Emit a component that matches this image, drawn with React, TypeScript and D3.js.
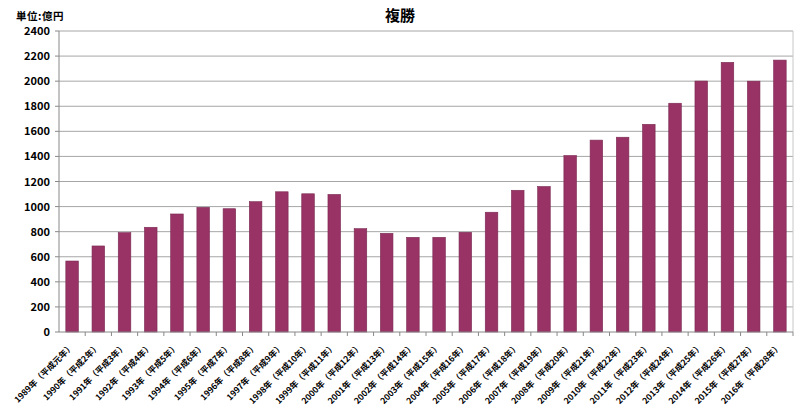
import React from "react";
import * as d3 from "d3";

const years = [
  "1989年（平成元年）", "1990年（平成2年）", "1991年（平成3年）", "1992年（平成4年）", "1993年（平成5年）",
  "1994年（平成6年）", "1995年（平成7年）", "1996年（平成8年）", "1997年（平成9年）", "1998年（平成10年）",
  "1999年（平成11年）", "2000年（平成12年）", "2001年（平成13年）", "2002年（平成14年）", "2003年（平成15年）",
  "2004年（平成16年）", "2005年（平成17年）", "2006年（平成18年）", "2007年（平成19年）", "2008年（平成20年）",
  "2009年（平成21年）", "2010年（平成22年）", "2011年（平成23年）", "2012年（平成24年）", "2013年（平成25年）",
  "2014年（平成26年）", "2015年（平成27年）", "2016年（平成28年）",
];
const values = [
  566, 686, 792, 835, 941, 994, 983, 1039, 1118, 1102,
  1097, 824, 787, 755, 755, 795, 955, 1130, 1160, 1407,
  1530, 1553, 1656, 1824, 2001, 2150, 2000, 2168,
];
const yTicks = [0, 200, 400, 600, 800, 1000, 1200, 1400, 1600, 1800, 2000, 2200, 2400];

const W = 800, H = 411;
const M = { left: 59, right: 793, top: 31, bottom: 332 };
const FONT = "'Noto Sans CJK JP', 'Noto Sans', sans-serif";

export default function App() {
  const x = d3.scaleBand<string>().domain(years).range([M.left, M.right]).paddingInner(0.52).paddingOuter(0.26);
  const xb = d3.scaleBand<string>().domain(years).range([M.left, M.right]);
  const y = d3.scaleLinear().domain([0, 2400]).range([M.bottom, M.top]);
  return (
    <svg width={W} height={H} style={{ position: "absolute", left: 0, top: 0, background: "#fff" }} fontFamily={FONT}>
      <text x={400} y={21} textAnchor="middle" fontSize={15} fontWeight="bold">複勝</text>
      <text x={16} y={20} fontSize={10.5} fontWeight="bold" letterSpacing={0.5}>単位:億円</text>
      {yTicks.map((t) => (
        <g key={t}>
          {t > 0 && <line x1={M.left} x2={M.right} y1={y(t)} y2={y(t)} stroke="#a6a6a6" strokeWidth={1} />}
          <line x1={M.left - 4} x2={M.left} y1={y(t)} y2={y(t)} stroke="#888" />
          <text x={50} y={y(t) + 4} textAnchor="end" fontSize={11} fontWeight="bold">{t}</text>
        </g>
      ))}
      <line x1={M.right} x2={M.right} y1={M.top} y2={M.bottom} stroke="#c8c8c8" />
      {years.map((c, i) => (
        <rect key={c} x={x(c)} y={y(values[i])} width={x.bandwidth()} height={M.bottom - y(values[i])}
          fill="#993366" stroke="#7a2a52" strokeWidth={0.6} />
      ))}
      <line x1={M.left} x2={M.left} y1={M.top} y2={M.bottom} stroke="#888" />
      <line x1={M.left} x2={M.right} y1={M.bottom} y2={M.bottom} stroke="#888" />
      {years.map((c) => (
        <line key={"t" + c} x1={xb(c)! + xb.bandwidth()} x2={xb(c)! + xb.bandwidth()} y1={M.bottom} y2={M.bottom + 4} stroke="#888" />
      ))}
      {years.map((c) => {
        const cx = xb(c)! + xb.bandwidth() / 2;
        const cy = M.bottom + 13;
        return (
          <text key={"l" + c} transform={`translate(${cx},${cy}) rotate(-45)`} textAnchor="end" fontSize={8.5} fontWeight="bold" dy="0.35em">{c}</text>
        );
      })}
    </svg>
  );
}
